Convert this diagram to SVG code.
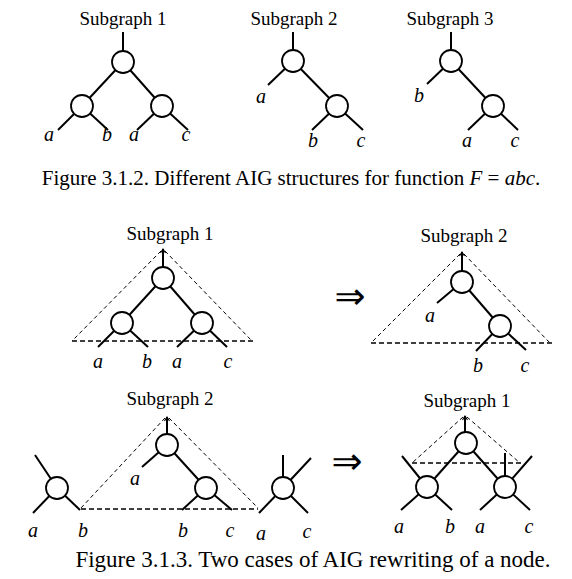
<svg xmlns="http://www.w3.org/2000/svg" width="572" height="579" viewBox="0 0 572 579">
<defs>
<style>
.e{stroke:#000;stroke-width:2;fill:none}
.s{stroke:#000;stroke-width:2;fill:none}
.ah{stroke:#000;stroke-width:1.1;fill:none}
.n{fill:#fff;stroke:#000;stroke-width:1.8}
.d{stroke:#000;stroke-width:1;stroke-dasharray:4 3;fill:none}
.dh{stroke:#000;stroke-width:1.4;stroke-dasharray:5 3;fill:none}
.t{font-family:"Liberation Serif","Times New Roman",serif;font-size:19px;fill:#000;text-anchor:middle}
.v{font-family:"Liberation Serif","Times New Roman",serif;font-size:20px;font-style:italic;fill:#000;text-anchor:middle}
.c1{font-family:"Liberation Serif","Times New Roman",serif;font-size:21px;fill:#000;text-anchor:middle}
.c2{font-family:"Liberation Serif","Times New Roman",serif;font-size:23px;fill:#000;text-anchor:middle}
.ar{font-family:"DejaVu Sans",sans-serif;font-size:37px;fill:#000;text-anchor:middle}
</style>
</defs>
<rect width="572" height="579" fill="#fff"/>

<g id="connectors">
<!-- Fig 3.1.2 Subgraph 1 -->
<line class="s" x1="123" y1="32" x2="123" y2="51"/>
<line class="e" x1="123" y1="62" x2="82" y2="106"/>
<line class="e" x1="123" y1="62" x2="162" y2="106"/>
<line class="e" x1="82" y1="106" x2="58" y2="130"/>
<line class="e" x1="82" y1="106" x2="108" y2="130"/>
<line class="e" x1="162" y1="106" x2="137" y2="130"/>
<line class="e" x1="162" y1="106" x2="188" y2="130"/>
<!-- Subgraph 2 -->
<line class="s" x1="293" y1="32" x2="293" y2="50"/>
<line class="e" x1="293" y1="61" x2="268" y2="85"/>
<line class="e" x1="293" y1="61" x2="337" y2="106"/>
<line class="e" x1="337" y1="106" x2="312" y2="130"/>
<line class="e" x1="337" y1="106" x2="363" y2="130"/>
<!-- Subgraph 3 -->
<line class="s" x1="451" y1="32" x2="451" y2="50"/>
<line class="e" x1="451" y1="61" x2="427" y2="84"/>
<line class="e" x1="451" y1="61" x2="493" y2="106"/>
<line class="e" x1="493" y1="106" x2="468" y2="130"/>
<line class="e" x1="493" y1="106" x2="518" y2="130"/>

<!-- Fig 3.1.3 top-left -->
<line class="d" x1="161" y1="251" x2="72" y2="341"/>
<line class="d" x1="165" y1="251" x2="252" y2="341"/>
<line class="dh" x1="72" y1="341" x2="254" y2="341"/>
<line class="s" x1="163" y1="249" x2="163" y2="267"/>
<polyline class="ah" points="160.5,253 163,249 165.5,253"/>
<line class="e" x1="163" y1="278" x2="122" y2="323"/>
<line class="e" x1="163" y1="278" x2="202" y2="323"/>
<line class="e" x1="122" y1="323" x2="98" y2="347"/>
<line class="e" x1="122" y1="323" x2="148" y2="347"/>
<line class="e" x1="202" y1="323" x2="177" y2="347"/>
<line class="e" x1="202" y1="323" x2="227" y2="347"/>

<!-- top-right -->
<line class="d" x1="460" y1="254" x2="371" y2="343"/>
<line class="d" x1="464" y1="254" x2="550" y2="343"/>
<line class="dh" x1="371" y1="343" x2="553" y2="343"/>
<line class="s" x1="462" y1="252" x2="462" y2="271"/>
<polyline class="ah" points="459.5,256 462,252 464.5,256"/>
<line class="e" x1="462" y1="282" x2="437" y2="303"/>
<line class="e" x1="462" y1="282" x2="500" y2="326"/>
<line class="e" x1="500" y1="326" x2="476" y2="351"/>
<line class="e" x1="500" y1="326" x2="526" y2="350"/>

<!-- bottom-left -->
<line class="d" x1="165" y1="418" x2="81" y2="508"/>
<line class="d" x1="169" y1="418" x2="258" y2="508"/>
<line class="dh" x1="81" y1="509" x2="258" y2="509"/>
<line class="s" x1="167" y1="417" x2="167" y2="434"/>
<polyline class="ah" points="164.5,421 167,417 169.5,421"/>
<line class="e" x1="167" y1="445" x2="142" y2="467"/>
<line class="e" x1="167" y1="445" x2="206" y2="488"/>
<line class="e" x1="206" y1="488" x2="182" y2="510"/>
<line class="e" x1="206" y1="488" x2="232" y2="510"/>
<line class="e" x1="35" y1="455" x2="57" y2="488"/>
<line class="e" x1="57" y1="488" x2="33" y2="513"/>
<line class="e" x1="57" y1="488" x2="80" y2="510"/>
<line class="e" x1="283" y1="455" x2="283" y2="488"/>
<line class="e" x1="283" y1="488" x2="311" y2="458"/>
<line class="e" x1="283" y1="488" x2="259" y2="513"/>
<line class="e" x1="283" y1="488" x2="308" y2="513"/>

<!-- bottom-right -->
<line class="d" x1="463" y1="417" x2="412" y2="463"/>
<line class="d" x1="467" y1="417" x2="520" y2="463"/>
<line class="dh" x1="412" y1="463" x2="522" y2="463"/>
<line class="s" x1="465" y1="416" x2="465" y2="432"/>
<polyline class="ah" points="462.5,420 465,416 467.5,420"/>
<line class="e" x1="466" y1="443" x2="427" y2="487"/>
<line class="e" x1="466" y1="443" x2="505" y2="487"/>
<line class="e" x1="427" y1="487" x2="402" y2="456"/>
<line class="e" x1="427" y1="487" x2="401" y2="510"/>
<line class="e" x1="427" y1="487" x2="452" y2="510"/>
<line class="e" x1="505" y1="487" x2="532" y2="456"/>
<line class="e" x1="505" y1="487" x2="480" y2="510"/>
<line class="e" x1="505" y1="487" x2="530" y2="510"/>
<line class="e" x1="505" y1="453" x2="505" y2="487"/>
</g>

<g id="n1"><circle class="n" cx="123" cy="62" r="11"/></g>
<g id="n2"><circle class="n" cx="82" cy="106" r="11"/></g>
<g id="n3"><circle class="n" cx="162" cy="106" r="11"/></g>
<g id="n4"><circle class="n" cx="293" cy="61" r="11"/></g>
<g id="n5"><circle class="n" cx="337" cy="106" r="11"/></g>
<g id="n6"><circle class="n" cx="451" cy="61" r="11"/></g>
<g id="n7"><circle class="n" cx="493" cy="106" r="11"/></g>
<g id="n8"><circle class="n" cx="163" cy="278" r="11"/></g>
<g id="n9"><circle class="n" cx="122" cy="323" r="11"/></g>
<g id="n10"><circle class="n" cx="202" cy="323" r="11"/></g>
<g id="n11"><circle class="n" cx="462" cy="282" r="11"/></g>
<g id="n12"><circle class="n" cx="500" cy="326" r="11"/></g>
<g id="n13"><circle class="n" cx="167" cy="445" r="11"/></g>
<g id="n14"><circle class="n" cx="206" cy="488" r="11"/></g>
<g id="n15"><circle class="n" cx="57" cy="488" r="11"/></g>
<g id="n16"><circle class="n" cx="283" cy="488" r="11"/></g>
<g id="n17"><circle class="n" cx="466" cy="443" r="11"/></g>
<g id="n18"><circle class="n" cx="427" cy="487" r="11"/></g>
<g id="n19"><circle class="n" cx="505" cy="487" r="11"/></g>

<g id="labels">
<text class="t" x="123" y="25">Subgraph 1</text>
<text class="t" x="294" y="25">Subgraph 2</text>
<text class="t" x="450" y="25">Subgraph 3</text>
<text class="v" x="49" y="141">a</text>
<text class="v" x="107" y="141">b</text>
<text class="v" x="134" y="141">a</text>
<text class="v" x="186" y="141">c</text>
<text class="v" x="261" y="103">a</text>
<text class="v" x="313" y="147">b</text>
<text class="v" x="361" y="147">c</text>
<text class="v" x="419" y="102">b</text>
<text class="v" x="467" y="147">a</text>
<text class="v" x="515" y="147">c</text>
<text class="c1" x="291" y="185">Figure 3.1.2. Different AIG structures for function <tspan font-style="italic">F</tspan> = <tspan font-style="italic">abc</tspan>.</text>

<text class="t" x="170" y="240">Subgraph 1</text>
<text class="v" x="98" y="368">a</text>
<text class="v" x="147" y="368">b</text>
<text class="v" x="177" y="368">a</text>
<text class="v" x="228" y="368">c</text>
<text class="ar" x="350" y="309">⇒</text>
<text class="t" x="464" y="242">Subgraph 2</text>
<text class="v" x="430" y="322">a</text>
<text class="v" x="478" y="372">b</text>
<text class="v" x="525" y="372">c</text>

<text class="t" x="170" y="405">Subgraph 2</text>
<text class="v" x="135" y="485">a</text>
<text class="v" x="183" y="537">b</text>
<text class="v" x="230" y="537">c</text>
<text class="v" x="33" y="537">a</text>
<text class="v" x="83" y="537">b</text>
<text class="v" x="261" y="540">a</text>
<text class="v" x="307" y="538">c</text>
<text class="ar" x="347" y="474">⇒</text>
<text class="t" x="467" y="407">Subgraph 1</text>
<text class="v" x="399" y="533">a</text>
<text class="v" x="450" y="533">b</text>
<text class="v" x="480" y="533">a</text>
<text class="v" x="529" y="533">c</text>
<text class="c2" x="313" y="567">Figure 3.1.3. Two cases of AIG rewriting of a node.</text>
</g>
</svg>
